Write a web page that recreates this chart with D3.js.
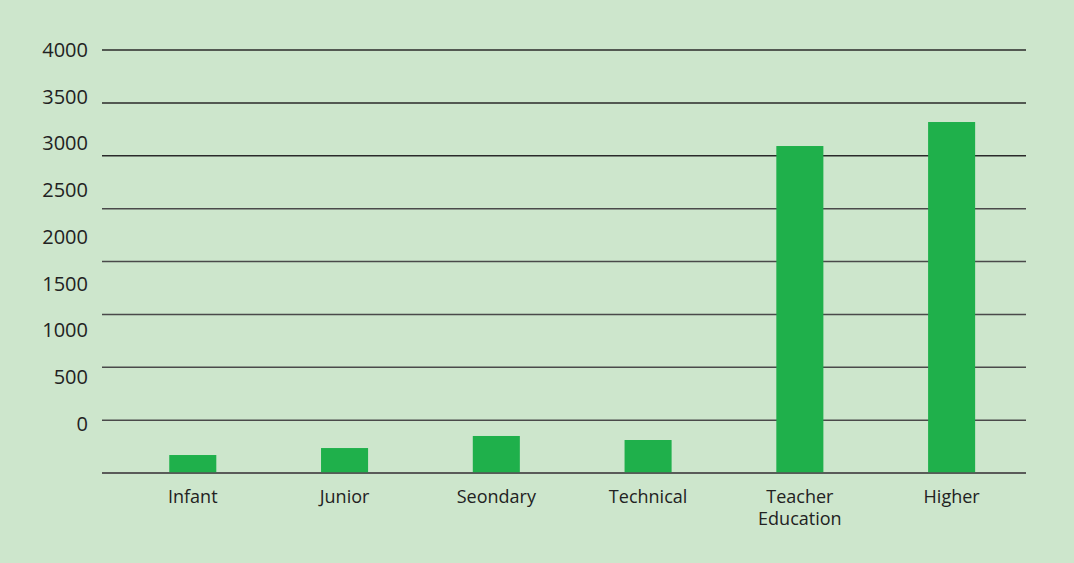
<!DOCTYPE html>
<html>
<head>
<meta charset="utf-8">
<script src="https://cdn.jsdelivr.net/npm/d3@7"></script>
<style>
  html, body { margin: 0; padding: 0; background: #cde6cc; }
  svg { display: block; }
  text { font-family: "Open Sans", "Noto Sans", sans-serif; fill: #222; }
</style>
</head>
<body>
<svg id="chart" width="1074" height="563"></svg>
<script>
// Education spending by sector
const categories = ["Infant", "Junior", "Seondary", "Technical", "Teacher Education", "Higher"];
const values = [170, 236, 350, 312, 3092, 3319];
const tickValues = [0, 500, 1000, 1500, 2000, 2500, 3000, 3500, 4000];

const width = 1074, height = 563;
const svg = d3.select("#chart");

svg.append("rect")
  .attr("width", width).attr("height", height)
  .attr("fill", "#cde6cc");

const gridLeft = 102, gridRight = 1026;

// value scale for bars and gridlines
const y = d3.scaleLinear().domain([0, 4000]).range([473, 50]);
// tick labels sit on their own, tighter scale
const yLabel = d3.scaleLinear().domain([0, 4000]).range([424, 50]);

const x = d3.scaleBand()
  .domain(categories)
  .range([116.9, 1027.5])
  .paddingInner(0.69)
  .paddingOuter(0.345)
  .align(0.5);

// gridlines
svg.append("g")
  .selectAll("line")
  .data(tickValues)
  .join("line")
  .attr("x1", gridLeft).attr("x2", gridRight)
  .attr("y1", d => y(d)).attr("y2", d => y(d))
  .attr("stroke", d => d >= 3000 ? "#2a2a2a" : "#4a4a4a")
  .attr("stroke-width", 1.5);

// y tick labels
const yAxis = d3.axisLeft(yLabel)
  .tickValues(tickValues)
  .tickFormat(d3.format("d"))
  .tickSize(0)
  .tickPadding(0);
const gy = svg.append("g").attr("transform", "translate(88,0)").call(yAxis);
gy.select(".domain").remove();
gy.selectAll("text")
  .attr("font-size", 20)
  .attr("font-family", "\"Open Sans\", \"Noto Sans\", sans-serif")
  .attr("fill", "#222");

// bars
svg.append("g")
  .selectAll("rect")
  .data(categories.map((c, i) => ({ c, v: values[i] })))
  .join("rect")
  .attr("x", d => x(d.c))
  .attr("width", x.bandwidth())
  .attr("y", d => y(d.v))
  .attr("height", d => y(0) - y(d.v))
  .attr("fill", "#1fb04b");

// baseline over bar bottoms
svg.append("line")
  .attr("x1", gridLeft).attr("x2", gridRight)
  .attr("y1", y(0)).attr("y2", y(0))
  .attr("stroke", "#555").attr("stroke-width", 1.5);

// category labels (wrapped onto separate lines)
const xLabels = svg.append("g")
  .selectAll("text")
  .data(categories)
  .join("text")
  .attr("text-anchor", "middle")
  .attr("font-size", 18)
  .attr("x", d => x(d) + x.bandwidth() / 2)
  .attr("y", 503);

xLabels.each(function(d) {
  const words = d.split(" ");
  const t = d3.select(this);
  words.forEach((w, i) => {
    t.append("tspan")
      .attr("x", x(d) + x.bandwidth() / 2)
      .attr("dy", i === 0 ? 0 : 22)
      .text(w);
  });
});
</script>
</body>
</html>
